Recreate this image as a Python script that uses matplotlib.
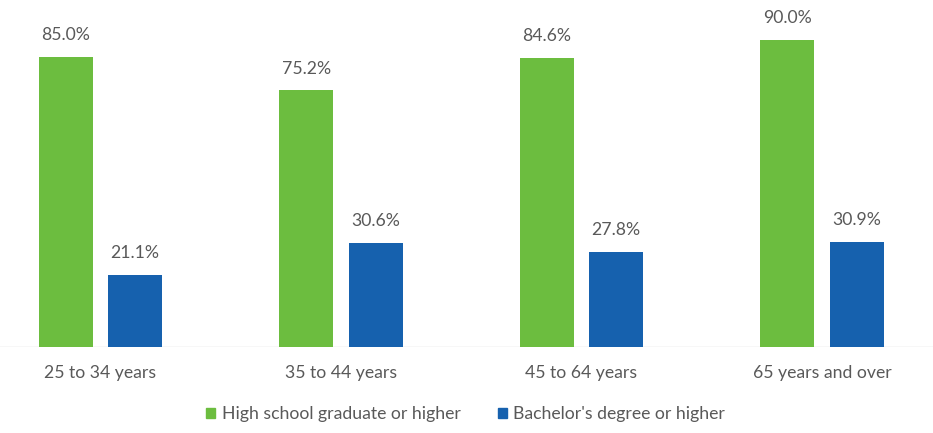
import matplotlib
matplotlib.use("Agg")
import matplotlib.pyplot as plt
import numpy as np
from matplotlib.patches import Patch

AGE_GROUPS = ["25 to 34 years", "35 to 44 years", "45 to 64 years", "65 years and over"]
HIGH_SCHOOL = [85.0, 75.2, 84.6, 90.0]
BACHELORS = [21.1, 30.6, 27.8, 30.9]
SERIES_NAMES = ["High school graduate or higher", "Bachelor's degree or higher"]

GREEN = "#6cbd3f"
BLUE = "#1661ae"
TEXT = "#595959"
FS = 12.7

plt.rcParams["font.family"] = ["Lato", "DejaVu Sans"]

fig = plt.figure(figsize=(9.33, 4.33), dpi=100)
ax = fig.add_axes([0, 1 - 347 / 433, 1, 347 / 433])

x = np.arange(len(AGE_GROUPS))
width = 0.2245
offset = 0.1435
green_bars = ax.bar(x - offset, HIGH_SCHOOL, width, color=GREEN, zorder=2)
blue_bars = ax.bar(x + offset, BACHELORS, width, color=BLUE, zorder=2)

for bars, vals in ((green_bars, HIGH_SCHOOL), (blue_bars, BACHELORS)):
    for bar, v in zip(bars, vals):
        ax.annotate(f"{v:.1f}%", (bar.get_x() + bar.get_width() / 2, v),
                    xytext=(0, 10), textcoords="offset points",
                    ha="center", va="bottom", fontsize=FS, color=TEXT)

ax.set_xlim(-100.5 / 240.5, (933 - 100.5) / 240.5)
ax.set_ylim(0, 347 / 3.412)
ax.axhline(0, color="#d9d9d9", lw=1, zorder=1)

ax.set_xticks(x)
ax.set_xticklabels(AGE_GROUPS, fontsize=FS, color=TEXT)
ax.tick_params(axis="x", length=0, pad=13)
ax.set_yticks([])
for spine in ax.spines.values():
    spine.set_visible(False)

handles = [Patch(color=GREEN), Patch(color=BLUE)]
fig.legend(handles, SERIES_NAMES, loc="center", bbox_to_anchor=(0.499, 1 - 414 / 433),
           ncol=2, frameon=False, fontsize=FS, handlelength=0.55, handleheight=0.5,
           handletextpad=0.35, columnspacing=2.1, labelcolor=TEXT)

fig.savefig("out.png", dpi=100)
